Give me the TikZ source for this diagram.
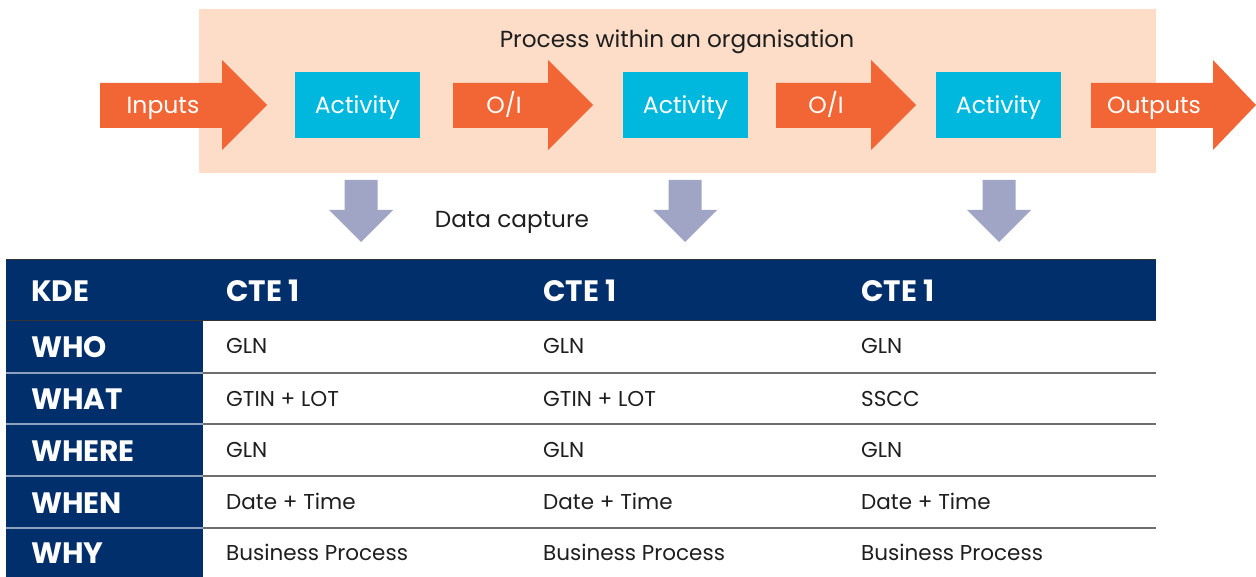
\documentclass[tikz,border=0pt]{standalone}
\usepackage{fontspec}
\setmainfont{Poppins}
\usepackage{xcolor}
\usepackage{tikz}

\definecolor{peach}{HTML}{FDDCC8}
\definecolor{flow}{HTML}{F26535}
\definecolor{act}{HTML}{00B8DE}
\definecolor{capture}{HTML}{A0A5C6}
\definecolor{navy}{HTML}{002F6C}
\definecolor{rule}{HTML}{6E6E6E}
\definecolor{ink}{HTML}{1E1E1E}

\begin{document}
\begin{tikzpicture}[
    x=1pt, y=-1pt,
    activity/.style={rectangle, fill=act, minimum width=125pt, minimum height=66pt, inner sep=0pt},
    flowtext/.style={text=white, anchor=base, inner sep=0pt, font=\fontsize{23.5}{26}\selectfont},
    plain/.style={text=ink, anchor=base, inner sep=0pt, font=\fontsize{23.2}{26}\selectfont},
    cell/.style={text=ink, anchor=base west, inner sep=0pt, font=\fontsize{21.5}{24}\selectfont},
    head/.style={text=white, anchor=base west, inner sep=0pt, font=\bfseries\fontsize{29.5}{32}\selectfont}
]
\useasboundingbox (0,0) rectangle (1256,577);

% Process box
\fill[peach] (199,9) rectangle (1156,173);
\node[plain] (process) at (677,48) {Process within an organisation};

% Flow arrows
\fill[flow] (100,83) -- (222,83) -- (222,60) -- (267,105) -- (222,150) -- (222,128) -- (100,128) -- cycle;
\fill[flow] (453,83) -- (548,83) -- (548,60) -- (593,105) -- (548,150) -- (548,128) -- (453,128) -- cycle;
\fill[flow] (776,83) -- (871,83) -- (871,60) -- (916,105) -- (871,150) -- (871,128) -- (776,128) -- cycle;
\fill[flow] (1091,83) -- (1213,83) -- (1213,60) -- (1256,105) -- (1213,150) -- (1213,128) -- (1091,128) -- cycle;
\node[flowtext] (inputs) at (163,114) {Inputs};
\node[flowtext] (oi1) at (504,114) {O/I};
\node[flowtext] (oi2) at (826,114) {O/I};
\node[flowtext] (outputs) at (1154,114) {Outputs};

% Activities
\node[activity] (act1) at (357.5,105) {};
\node[activity] (act2) at (685.5,105) {};
\node[activity] (act3) at (998.5,105) {};
\foreach \n in {act1,act2,act3}
  \node[flowtext] (\n-text) at ([yshift=-9pt]\n.center) {Activity};

% Data capture arrows
\foreach \cx in {361,685,999}
  \fill[capture] (\cx-16.5,180) -- (\cx+16.5,180) -- (\cx+16.5,210) -- (\cx+32,210) -- (\cx,242) -- (\cx-32,210) -- (\cx-16.5,210) -- cycle;
\node[plain] (capture) at (512,228) {Data capture};

% Table
\fill[navy] (6,260) rectangle (1156,321);
\draw[black!80, line width=1pt] (6,260) -- (1156,260);
\draw[black!80, line width=1pt] (6,321) -- (1156,321);
\fill[navy] (6,321) rectangle (203,577);
\foreach \y in {373,424,476,528} {
  \draw[navy!45!white, line width=1.5pt] (6,\y) -- (203,\y);
  \draw[rule, line width=1.5pt] (203,\y) -- (1156,\y);
}

\node[head] (kde) at (31,302) {KDE};
\node[head] (cte1) at (226,302) {CTE 1};
\node[head] (cte2) at (543,302) {CTE 1};
\node[head] (cte3) at (861,302) {CTE 1};

\foreach \yk/\yc/\key/\a/\b/\c in {358/354/WHO/GLN/GLN/GLN, 409/406/WHAT/GTIN + LOT/GTIN + LOT/SSCC, 461/457/WHERE/GLN/GLN/GLN, 513/509/WHEN/Date + Time/Date + Time/Date + Time, 563/560/WHY/Business Process/Business Process/Business Process} {
  \node[head] (k-\key) at (31,\yk) {\key};
  \node[cell] (a-\key) at (226,\yc) {\a};
  \node[cell] (b-\key) at (543,\yc) {\b};
  \node[cell] (c-\key) at (861,\yc) {\c};
}

\end{tikzpicture}
\end{document}
